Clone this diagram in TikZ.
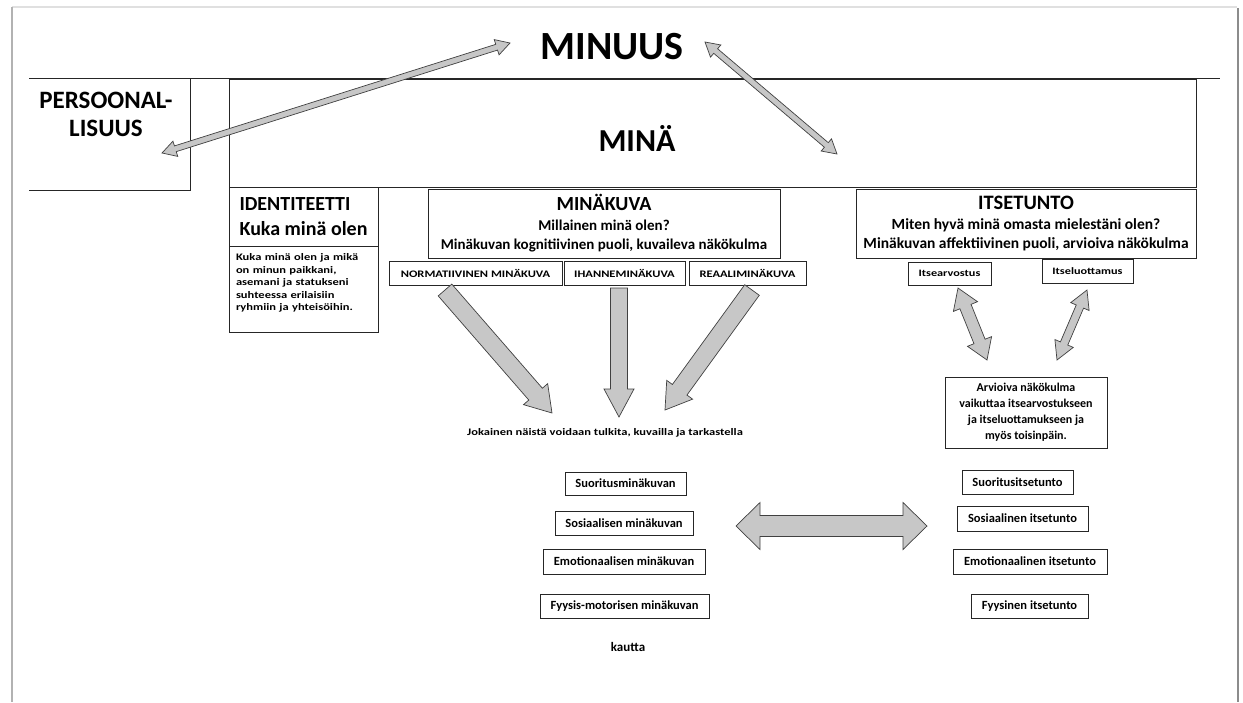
\documentclass[tikz,border=0pt]{standalone}
\usepackage{fontspec}
\setmainfont{Carlito}
\newfontfamily\widefont{Carlito}[FakeStretch=1.25]
\usetikzlibrary{calc}

\tikzset{
  box/.style={draw=black!85, line width=0.8pt, inner sep=0pt, font=\bfseries},
  fatarr/.style={draw=black!75, fill=black!22, line width=0.7pt, line join=miter},
  frameline/.style={line width=2pt}
}

% fat arrow with one head: start, end, half shaft, half head, head length
\newcommand{\fatarrow}[5]{%
  \path (#1) coordinate (fa-s) (#2) coordinate (fa-e)
    ($(#2)!#5!(#1)$) coordinate (fa-c);
  \draw[fatarr] ($(fa-s)!#3!90:(fa-e)$) -- ($(fa-c)!#3!90:(fa-e)$)
    -- ($(fa-c)!#4!90:(fa-e)$) -- (fa-e) -- ($(fa-c)!#4!-90:(fa-e)$)
    -- ($(fa-c)!#3!-90:(fa-e)$) -- ($(fa-s)!#3!-90:(fa-e)$) -- cycle;}
% fat arrow with two heads
\newcommand{\fatdarrow}[5]{%
  \path (#1) coordinate (fa-s) (#2) coordinate (fa-e)
    ($(#2)!#5!(#1)$) coordinate (fa-c) ($(#1)!#5!(#2)$) coordinate (fa-d);
  \draw[fatarr] (fa-s) -- ($(fa-d)!#4!90:(fa-e)$) -- ($(fa-d)!#3!90:(fa-e)$)
    -- ($(fa-c)!#3!90:(fa-e)$) -- ($(fa-c)!#4!90:(fa-e)$) -- (fa-e)
    -- ($(fa-c)!#4!-90:(fa-e)$) -- ($(fa-c)!#3!-90:(fa-e)$)
    -- ($(fa-d)!#3!-90:(fa-e)$) -- ($(fa-d)!#4!-90:(fa-e)$) -- cycle;}

\begin{document}
\begin{tikzpicture}[x=1pt, y=-1pt]
\useasboundingbox (0,0) rectangle (1243,702);
% page
\draw[frameline, black!12] (12,7) -- (1237,7);
\draw[frameline, black!30] (12,7) -- (12,702);
\draw[frameline, line width=2.5pt, black!45] (1238,8) -- (1238,702);

\node[font=\bfseries\fontsize{40}{40}\selectfont] (minuus) at (612,47) {MINUUS};
\draw[line width=1pt, black!85] (29,78) -- (1220,78);
\draw[line width=0.8pt, black!85] (190,78) -- (190,190) -- (29,190);
\node[align=center, font=\bfseries\fontsize{25}{28}\selectfont] (pers) at (106,114) {PERSOONAL-\\LISUUS};

\node[box, minimum width=967, minimum height=108] (mina) at (712.5,133) {};
\node[font=\bfseries\fontsize{32}{32}\selectfont] (minatxt) at (637,138) {MINÄ};

\node[box, align=left, minimum width=149, minimum height=59, font=\bfseries\fontsize{20}{25}\selectfont] (ident) at (303.5,216.5) {IDENTITEETTI\\Kuka minä olen};
\node[box, minimum width=149, minimum height=86] (identbox) at (303.5,289.5) {};
\node[align=left, text width=135, inner sep=0pt, font=\widefont\bfseries\fontsize{10}{12.4}\selectfont] (identtxt) at (303.5,283) {Kuka minä olen ja mikä\\on minun paikkani,\\asemani ja statukseni\\suhteessa erilaisiin\\ryhmiin ja yhteisöihin.};

\node[box, align=center, minimum width=352, minimum height=69, font=\bfseries\fontsize{15}{19.5}\selectfont] (kuva) at (604,223.5) {{\fontsize{20}{20}\selectfont MINÄKUVA}\\Millainen minä olen?\\Minäkuvan kognitiivinen puoli, kuvaileva näkökulma};
\node[box, minimum width=173, minimum height=24, font=\widefont\bfseries\fontsize{10}{10}\selectfont] (norm) at (475.5,273) {NORMATIIVINEN MINÄKUVA};
\node[box, minimum width=121, minimum height=24, font=\widefont\bfseries\fontsize{10}{10}\selectfont] (ihanne) at (624.5,273) {IHANNEMINÄKUVA};
\node[box, minimum width=117, minimum height=24, font=\widefont\bfseries\fontsize{10}{10}\selectfont] (reaali) at (747.5,273) {REAALIMINÄKUVA};

\node[box, align=center, minimum width=340, minimum height=69, font=\bfseries\fontsize{15.5}{19.5}\selectfont] (tunto) at (1026,223.5) {{\fontsize{20.5}{20}\selectfont ITSETUNTO}\\Miten hyvä minä omasta mielestäni olen?\\Minäkuvan affektiivinen puoli, arvioiva näkökulma};
\node[box, minimum width=83, minimum height=23, font=\widefont\bfseries\fontsize{9.8}{9.8}\selectfont] (arvo) at (949.5,273.5) {Itsearvostus};
\node[box, minimum width=91, minimum height=24, font=\widefont\bfseries\fontsize{9.8}{9.8}\selectfont] (luotto) at (1087.5,271) {Itseluottamus};
\node[box, align=center, minimum width=162, minimum height=71, font=\bfseries\fontsize{12}{16}\selectfont] (arvioiva) at (1026,412.5) {Arvioiva näkökulma\\vaikuttaa itsearvostukseen\\ja itseluottamukseen ja\\myös toisinpäin.};

\node[font=\widefont\bfseries\fontsize{10}{10}\selectfont] (jokainen) at (605,433) {Jokainen näistä voidaan tulkita, kuvailla ja tarkastella};

\node[box, minimum width=121, minimum height=23, font=\bfseries\fontsize{12.5}{12}\selectfont] (lsuor) at (625.5,483.5) {Suoritusminäkuvan};
\node[box, minimum width=138, minimum height=24, font=\bfseries\fontsize{12.5}{12}\selectfont] (lsos) at (624,523) {Sosiaalisen minäkuvan};
\node[box, minimum width=162, minimum height=25, font=\bfseries\fontsize{12.5}{12}\selectfont] (lemo) at (624,561.5) {Emotionaalisen minäkuvan};
\node[box, minimum width=169, minimum height=24, font=\bfseries\fontsize{12.5}{12}\selectfont] (lfyy) at (624.5,606) {Fyysis-motorisen minäkuvan};
\node[font=\bfseries\fontsize{13}{13}\selectfont] (kautta) at (628,647) {kautta};

\node[box, minimum width=111, minimum height=24, font=\bfseries\fontsize{12.5}{12}\selectfont] (rsuor) at (1017.5,482) {Suoritusitsetunto};
\node[box, minimum width=131, minimum height=25, font=\bfseries\fontsize{12.5}{12}\selectfont] (rsos) at (1022.5,518.5) {Sosiaalinen itsetunto};
\node[box, minimum width=154, minimum height=25, font=\bfseries\fontsize{12.5}{12}\selectfont] (remo) at (1030,561.5) {Emotionaalinen itsetunto};
\node[box, minimum width=117, minimum height=24, font=\bfseries\fontsize{12.5}{12}\selectfont] (rfyy) at (1029.5,606) {Fyysinen itsetunto};

\coordinate (p1) at (162,153);
\coordinate (p2) at (510,43);
\coordinate (m1) at (705,42);
\coordinate (m2) at (837,154);
\coordinate (n1) at (445,290);
\coordinate (n2) at (552,413);
\coordinate (i1) at (619,288);
\coordinate (i2) at (619,417);
\coordinate (r1) at (752,290);
\coordinate (r2) at (665,410);
\coordinate (a1) at (958,288);
\coordinate (a2) at (987,360);
\coordinate (l1) at (1087,290);
\coordinate (l2) at (1057,360);
\coordinate (h1) at (736,526);
\coordinate (h2) at (927,526);

\fatdarrow{p1}{p2}{3pt}{8pt}{14pt}
\fatdarrow{m1}{m2}{3pt}{8pt}{14pt}
\fatarrow{n1}{n2}{9pt}{16pt}{25pt}
\fatarrow{i1}{i2}{8.5pt}{15pt}{28pt}
\fatarrow{r1}{r2}{9pt}{16pt}{25pt}
\fatdarrow{a1}{a2}{6pt}{13pt}{20pt}
\fatdarrow{l1}{l2}{4pt}{10pt}{18pt}
\fatdarrow{h1}{h2}{10.5pt}{23.5pt}{24pt}
\end{tikzpicture}
\end{document}
